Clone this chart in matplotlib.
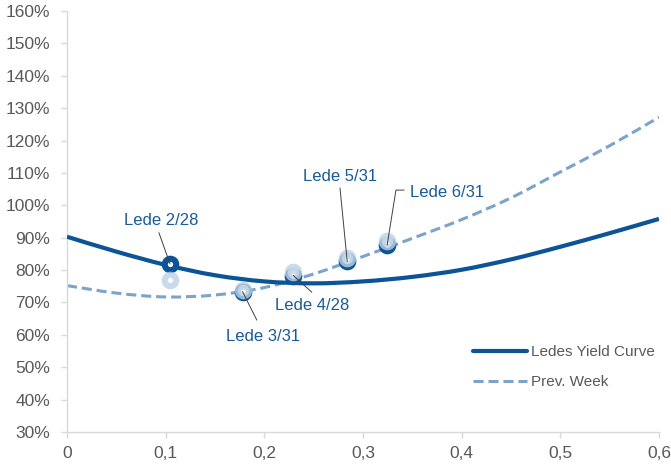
import numpy as np
import matplotlib.pyplot as plt
from matplotlib.path import Path
from matplotlib.patches import PathPatch
from matplotlib.lines import Line2D
from matplotlib.ticker import FuncFormatter, MultipleLocator

plt.rcParams['font.family'] = ['Liberation Sans', 'DejaVu Sans']

# yield curves, sampled every 0.05 of maturity
maturity = [0.0, 0.05, 0.1, 0.15, 0.2, 0.25, 0.3, 0.35, 0.4, 0.45, 0.5, 0.55, 0.6]
ledes_curve = [90.3, 85.7, 81.6, 78.4, 76.5, 75.9, 76.5, 77.9, 80.1, 83.3, 87.2, 91.4, 95.8]
prev_curve = [75.2, 72.9, 71.7, 72.3, 74.6, 78.8, 84.2, 89.8, 95.6, 102.3, 110.3, 118.4, 127.2]

# individual ledes, this week and last week
lede_names = ['Lede 2/28', 'Lede 3/31', 'Lede 4/28', 'Lede 5/31', 'Lede 6/31']
lede_maturity = [0.1044, 0.178, 0.2295, 0.284, 0.3245]
lede_yield = [81.9, 73.3, 78.3, 82.7, 87.8]
lede_yield_prev = [77.0, 73.9, 79.5, 83.6, 89.0]

# label anchor, alignment and leader line start (plus optional elbow)
label_pos = [(0.0953, 95.2, 'center'), (0.1991, 59.6, 'center'), (0.2483, 69.2, 'center'),
             (0.2767, 109.0, 'center'), (0.3476, 104.1, 'left')]
leader_start = [[(0.0932, 91.5)], [(0.1923, 64.6)], [(0.248, 73.2)],
                [(0.2767, 105.3)], [(0.3415, 104.7), (0.3334, 104.7)]]

DARK = '#0c5496'
LIGHT = '#7ba3cb'
RING_LIGHT = '#bcd2e7'
LABEL = '#1a5a96'
GREY = '#595959'
AXIS = '#d9d9d9'


def smooth_path(xs, ys):
    # catmull-rom through the points, as cubic beziers
    pts = np.column_stack([xs, ys])
    ext = np.vstack([pts[0], pts, pts[-1]])
    verts = [pts[0]]
    codes = [Path.MOVETO]
    for i in range(len(pts) - 1):
        p0, p1, p2, p3 = ext[i], ext[i + 1], ext[i + 2], ext[i + 3]
        verts += [p1 + (p2 - p0) / 6, p2 - (p3 - p1) / 6, p2]
        codes += [Path.CURVE4] * 3
    return Path(verts, codes)


fig = plt.figure(figsize=(6.71, 4.66), dpi=100)
ax = fig.add_axes([67 / 671, 1 - 432 / 466, 592 / 671, 421 / 466])

dash = (3.3, 1.6)
ax.add_patch(PathPatch(smooth_path(maturity, prev_curve), fill=False, edgecolor=LIGHT,
                       lw=2.2, linestyle=(0, dash), capstyle='butt', zorder=2))
ax.add_patch(PathPatch(smooth_path(maturity, ledes_curve), fill=False, edgecolor=DARK,
                       lw=3.0, capstyle='butt', zorder=3))

ax.plot(lede_maturity, lede_yield, ls='none', marker='o', ms=8.3, mew=4.4,
        mfc='white', mec=DARK, zorder=4)
ax.plot(lede_maturity, lede_yield_prev, ls='none', marker='o', ms=8.3, mew=4.4,
        mfc='white', mec=RING_LIGHT, alpha=0.8, zorder=5)

for name, mx, my, (tx, ty, ha), start in zip(lede_names, lede_maturity, lede_yield,
                                             label_pos, leader_start):
    pts = start + [(mx, my)]
    ax.plot([p[0] for p in pts], [p[1] for p in pts], color='#404040', lw=0.7, zorder=6)
    ax.text(tx, ty, name, ha=ha, va='center', color=LABEL, fontsize=12, zorder=7)

ax.set_xlim(0, 0.6)
ax.set_ylim(30, 160)
ax.xaxis.set_major_locator(MultipleLocator(0.1))
ax.yaxis.set_major_locator(MultipleLocator(10))
ax.xaxis.set_major_formatter(FuncFormatter(
    lambda v, p: '0' if abs(v) < 1e-9 else f'{v:.1f}'.replace('.', ',')))
ax.yaxis.set_major_formatter(FuncFormatter(lambda v, p: f'{v:.0f}%'))

for side in ['top', 'right']:
    ax.spines[side].set_visible(False)
for side in ['left', 'bottom']:
    ax.spines[side].set_color(AXIS)
    ax.spines[side].set_linewidth(1.0)
ax.tick_params(axis='both', colors=AXIS, labelcolor=GREY, labelsize=12.5, length=4, width=1)
ax.tick_params(axis='y', pad=8)
ax.tick_params(axis='x', pad=6)

handles = [Line2D([], [], color=DARK, lw=3.0, solid_capstyle='round'),
           Line2D([], [], color=LIGHT, lw=2.2, linestyle=(0, dash))]
leg = ax.legend(handles, ['Ledes Yield Curve', 'Prev. Week'], loc='upper left',
                bbox_to_anchor=(473 / 671, 1 - 345 / 466), bbox_transform=fig.transFigure,
                frameon=False, fontsize=11, handlelength=3.55, handletextpad=0.26,
                labelspacing=1.05, borderpad=0, borderaxespad=0)
for t in leg.get_texts():
    t.set_color(GREY)

fig.savefig('out.png', dpi=100)
